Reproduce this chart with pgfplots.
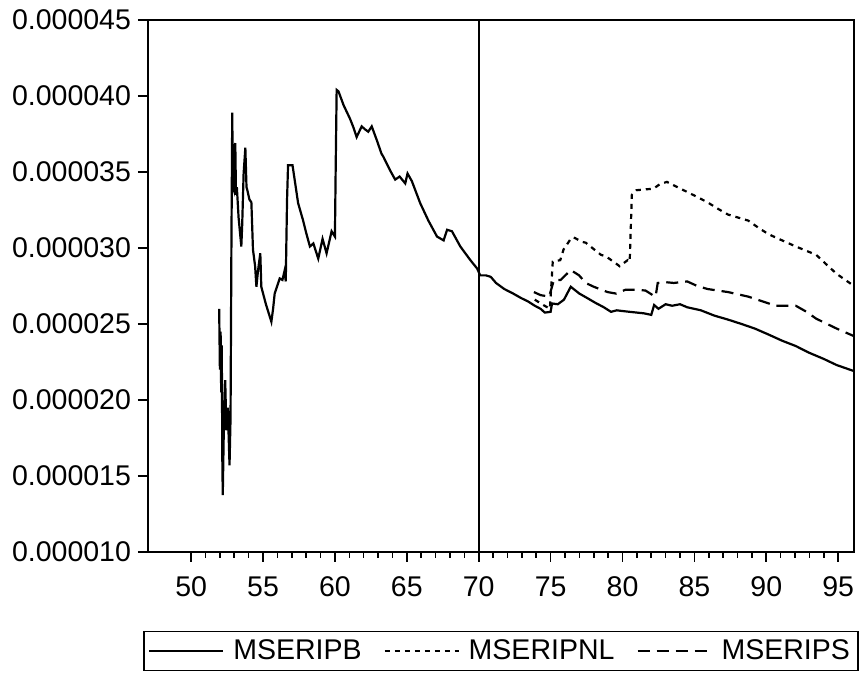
\documentclass[border=0pt]{standalone}
\usepackage{fontspec}
\setmainfont{Liberation Sans}
\usepackage{pgfplots}
\pgfplotsset{compat=1.18}
\usepackage{pgfplotstable}

% MSERIPB: year (19xx), value
\pgfplotstableread{
yr    v
51.95 26.0e-6
52.00 22.0e-6
52.05 24.5e-6
52.09 20.5e-6
52.13 23.6e-6
52.17 16.0e-6
52.20 13.75e-6
52.28 18.5e-6
52.37 21.3e-6
52.45 18.0e-6
52.55 19.5e-6
52.67 15.7e-6
52.74 18.8e-6
52.80 30.0e-6
52.86 38.9e-6
52.90 34.0e-6
52.97 33.8e-6
53.00 36.5e-6
53.07 36.9e-6
53.12 33.5e-6
53.18 34.0e-6
53.30 32.0e-6
53.49 30.1e-6
53.55 31.5e-6
53.65 34.9e-6
53.77 36.6e-6
53.85 34.0e-6
53.91 33.8e-6
54.05 33.2e-6
54.19 33.0e-6
54.30 29.9e-6
54.45 28.8e-6
54.54 27.45e-6
54.65 28.5e-6
54.81 29.65e-6
54.88 27.45e-6
55.20 26.3e-6
55.58 25.15e-6
55.70 26.0e-6
55.81 27.0e-6
55.95 27.4e-6
56.16 28.0e-6
56.35 27.9e-6
56.51 28.55e-6
56.58 27.8e-6
56.67 33.15e-6
56.74 35.45e-6
57.05 35.45e-6
57.44 32.95e-6
57.79 31.8e-6
58.00 31.0e-6
58.26 30.1e-6
58.50 30.3e-6
58.84 29.3e-6
59.14 30.6e-6
59.42 29.65e-6
59.77 31.1e-6
60.00 30.75e-6
60.05 35.0e-6
60.12 40.4e-6
60.25 40.3e-6
60.60 39.4e-6
61.05 38.5e-6
61.30 37.9e-6
61.51 37.3e-6
61.86 38.0e-6
62.10 37.8e-6
62.32 37.65e-6
62.56 38.0e-6
62.91 37.1e-6
63.24 36.2e-6
63.37 36.0e-6
63.84 35.1e-6
64.19 34.5e-6
64.50 34.7e-6
64.89 34.25e-6
65.05 34.9e-6
65.35 34.4e-6
65.93 32.95e-6
66.50 31.8e-6
67.10 30.75e-6
67.56 30.5e-6
67.80 31.2e-6
68.14 31.1e-6
68.72 30.1e-6
69.42 29.2e-6
69.89 28.65e-6
70.10 28.2e-6
70.50 28.2e-6
70.84 28.1e-6
71.20 27.7e-6
71.78 27.3e-6
72.40 27.0e-6
72.96 26.7e-6
73.40 26.5e-6
73.90 26.2e-6
74.30 26.0e-6
74.60 25.75e-6
75.00 25.8e-6
75.10 26.35e-6
75.50 26.3e-6
75.93 26.6e-6
76.40 27.45e-6
77.00 27.0e-6
77.56 26.7e-6
78.10 26.4e-6
78.70 26.1e-6
79.20 25.8e-6
79.60 25.9e-6
80.03 25.85e-6
80.50 25.8e-6
81.00 25.75e-6
81.50 25.7e-6
82.00 25.6e-6
82.20 26.25e-6
82.50 26.0e-6
83.00 26.3e-6
83.45 26.2e-6
84.00 26.3e-6
84.50 26.1e-6
85.45 25.9e-6
86.39 25.55e-6
87.30 25.3e-6
88.28 25.0e-6
89.20 24.7e-6
90.17 24.3e-6
91.10 23.9e-6
92.05 23.55e-6
93.00 23.1e-6
94.00 22.7e-6
94.89 22.3e-6
96.10 21.9e-6
}\ipb

% MSERIPNL
\pgfplotstableread{
yr    v
73.90 26.6e-6
74.40 26.3e-6
74.95 26.0e-6
75.15 29.1e-6
75.67 29.2e-6
75.90 29.9e-6
76.40 30.6e-6
76.60 30.7e-6
77.20 30.4e-6
77.44 30.35e-6
78.50 29.55e-6
78.85 29.45e-6
79.66 28.9e-6
79.80 28.8e-6
80.36 29.2e-6
80.50 29.1e-6
80.65 33.5e-6
80.97 33.8e-6
81.50 33.85e-6
82.15 33.9e-6
82.60 34.2e-6
83.09 34.35e-6
84.04 33.9e-6
85.00 33.45e-6
85.92 33.0e-6
86.60 32.6e-6
87.34 32.2e-6
88.75 31.8e-6
89.50 31.3e-6
90.17 30.9e-6
91.10 30.5e-6
92.05 30.1e-6
93.47 29.55e-6
94.20 28.9e-6
94.89 28.3e-6
96.10 27.5e-6
}\ipnl

% MSERIPS
\pgfplotstableread{
yr    v
73.84 27.1e-6
74.30 26.9e-6
74.90 26.8e-6
75.23 27.9e-6
75.70 27.9e-6
76.40 28.55e-6
76.98 28.2e-6
77.44 27.7e-6
78.00 27.45e-6
78.96 27.1e-6
79.56 27.0e-6
80.20 27.25e-6
81.05 27.25e-6
81.60 27.2e-6
82.10 26.9e-6
82.30 26.8e-6
82.45 27.7e-6
83.00 27.75e-6
83.57 27.7e-6
84.50 27.8e-6
85.20 27.5e-6
85.92 27.3e-6
87.34 27.1e-6
88.75 26.8e-6
89.70 26.5e-6
90.64 26.2e-6
92.05 26.2e-6
92.80 25.8e-6
93.47 25.35e-6
94.89 24.7e-6
96.10 24.2e-6
}\ips

\begin{document}
\begin{tikzpicture}
\begin{axis}[
  scale only axis,
  width=353pt, height=266pt,
  xmin=47, xmax=96.1,
  ymin=10e-6, ymax=45e-6,
  xtick={50,55,...,95},
  minor x tick num=4,
  ytick={10e-6,15e-6,20e-6,25e-6,30e-6,35e-6,40e-6,45e-6},
  scaled y ticks=false,
  yticklabel style={/pgf/number format/.cd, fixed, fixed zerofill, precision=6},
  xticklabel style={yshift=-4pt},
  /pgf/number format/assume math mode=true,
  tick align=outside,
  xtick pos=bottom, ytick pos=left,
  major tick length=5pt, minor tick length=3pt,
  tick style={black, line width=0.8pt},
  axis line style={line width=1pt},
  font=\fontsize{14.25}{17}\selectfont,
  legend columns=3,
  legend style={at={(0.5,-0.148)}, anchor=north, draw=black, line width=0.8pt,
    inner xsep=2pt, inner ysep=2pt,
    /tikz/every odd column/.append style={column sep=2.5pt},
    /tikz/every even column/.append style={column sep=9pt}},
  legend image code/.code={\draw[#1] (0pt,0pt) -- (37pt,0pt);},
]
\addplot[black, line width=1.1pt] table[x=yr, y=v] {\ipb};
\addplot[black, line width=1.1pt, dash pattern=on 2.5pt off 2.5pt] table[x=yr, y=v] {\ipnl};
\addplot[black, line width=1.1pt, dash pattern=on 6pt off 3.5pt] table[x=yr, y=v] {\ips};
\addplot[black, line width=0.9pt, forget plot] coordinates {(70,10e-6) (70,45e-6)};
\legend{MSERIPB, MSERIPNL, MSERIPS}
\end{axis}
\pgfresetboundingbox
\path (current axis.south west) ++(-74pt,-63pt) rectangle ++(431.5pt,339pt);
\end{tikzpicture}
\end{document}
